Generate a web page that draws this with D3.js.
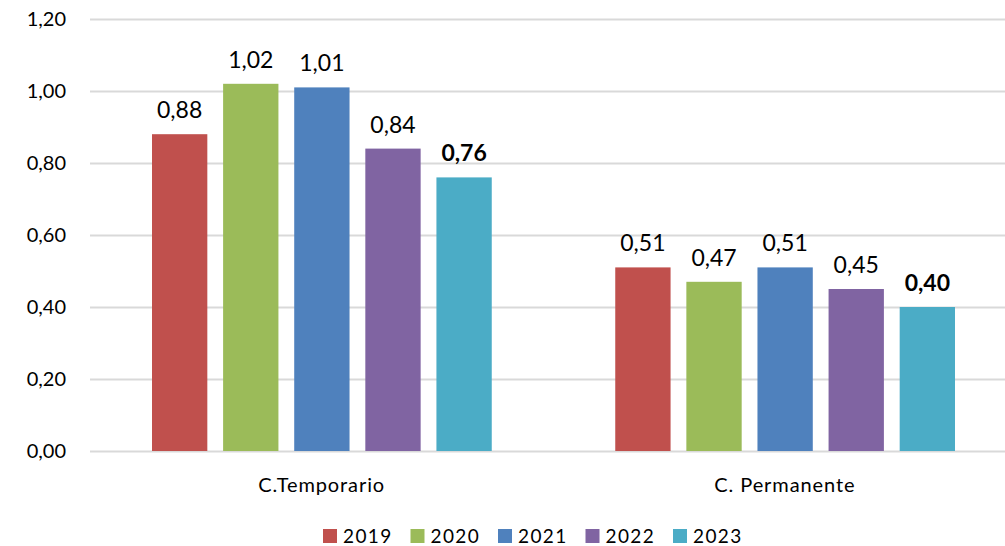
<!DOCTYPE html>
<html><head><meta charset="utf-8">
<script src="https://cdn.jsdelivr.net/npm/d3@7"></script>
<style>
body{margin:0;background:#fff;}
svg{display:block;font-family:Lato,"Open Sans",sans-serif;}
</style></head>
<body><svg id="c" width="1005" height="546"></svg>
<script>
const categories = ["C.Temporario", "C. Permanente"];
const years = ["2019", "2020", "2021", "2022", "2023"];
const v2019 = [0.88, 0.51];
const v2020 = [1.02, 0.47];
const v2021 = [1.01, 0.51];
const v2022 = [0.84, 0.45];
const v2023 = [0.76, 0.40];
const yTicks = [0, 0.2, 0.4, 0.6, 0.8, 1.0, 1.2];
const colors = ["#C0504D", "#9BBB59", "#4F81BD", "#8064A2", "#4BACC6"];
const seriesVals = [v2019, v2020, v2021, v2022, v2023];

const svg = d3.select("#c");
const fmt = v => v.toFixed(2).replace(".", ",");

const y = d3.scaleLinear().domain([0, 1.2]).range([451, 19]);
const x0 = d3.scaleBand().domain(categories).range([90, 1016.5]).padding(0);
const x1 = d3.scaleBand().domain(years).range([62, x0.bandwidth() - 61.5]).paddingInner(0.222).paddingOuter(0);
const color = d3.scaleOrdinal().domain(years).range(colors);

// grid
const yAxis = d3.axisLeft(y).tickValues(yTicks).tickSize(-(1005 - 90)).tickFormat(fmt).tickPadding(24);
const gy = svg.append("g").attr("transform", "translate(90,0)").call(yAxis);
gy.select(".domain").remove();
gy.selectAll(".tick line").attr("stroke", "#d9d9d9").attr("stroke-width", 2);
gy.selectAll(".tick text").attr("fill", "#000").style("font-size", "20px").style("font-family", "Lato");

// bars
const data = [];
categories.forEach((c, ci) => years.forEach((yr, yi) => data.push({c, yr, v: seriesVals[yi][ci], last: yi === years.length - 1})));
const g = svg.append("g");
g.selectAll("rect").data(data).join("rect")
  .attr("x", d => x0(d.c) + x1(d.yr))
  .attr("width", x1.bandwidth())
  .attr("y", d => y(d.v))
  .attr("height", d => y(0) - y(d.v))
  .attr("fill", d => color(d.yr));

g.selectAll("text.lbl").data(data).join("text").attr("class", "lbl")
  .attr("x", d => x0(d.c) + x1(d.yr) + x1.bandwidth() / 2)
  .attr("y", d => y(d.v) - 16)
  .attr("text-anchor", "middle")
  .style("font-size", "23px")
  .style("font-weight", d => d.last ? "bold" : "normal")
  .text(d => fmt(d.v));

// x axis
const xAxis = d3.axisBottom(x0).tickSize(0).tickPadding(0);
const gx = svg.append("g").attr("transform", "translate(0,451)").call(xAxis);
gx.select(".domain").remove();
gx.selectAll(".tick text").attr("fill", "#000").attr("dy", null).attr("y", 41)
  .style("font-size", "20px").style("font-family", "Lato").style("letter-spacing", "0.9px");

// legend
const leg = svg.append("g").attr("transform", "translate(323,529)");
const li = leg.selectAll("g").data(years).join("g").attr("transform", (d, i) => `translate(${i * 87.5},0)`);
li.append("rect").attr("width", 14).attr("height", 14).attr("fill", d => color(d));
li.append("text").attr("x", 20).attr("y", 14).style("font-size", "19px").style("letter-spacing", "1.4px").text(d => d);
</script></body></html>
